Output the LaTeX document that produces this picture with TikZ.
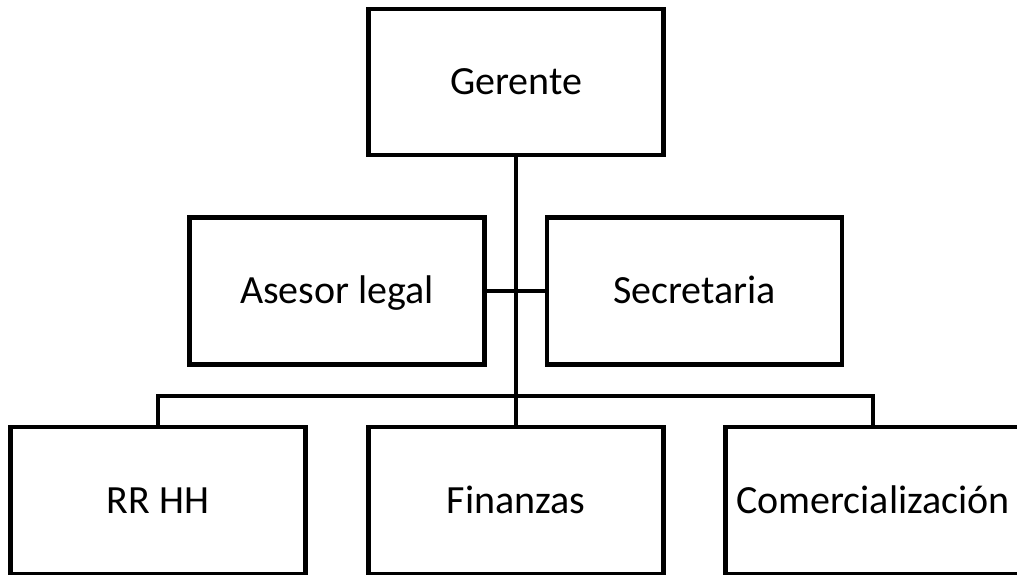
\documentclass[tikz,border=0pt]{standalone}
\usepackage{fontspec}
\setmainfont{Carlito}
\begin{document}
\begin{tikzpicture}[x=1pt,y=-1pt,
  orgbox/.style={draw=black, line width=4.5pt, fill=white, minimum width=295pt, minimum height=147pt, inner sep=0pt, outer sep=0pt, font=\fontsize{40}{48}\selectfont, text height=25.8pt, text depth=0pt},
  conn/.style={draw=black, line width=4.5pt}]
\useasboundingbox (0,0) rectangle (1017,574);
\clip (0,0) rectangle (1017,574);
\node[orgbox, minimum height=146pt] (ger) at (516,82) {Gerente};
\node[orgbox] (ase) at (337,291) {Asesor legal};
\node[orgbox] (sec) at (694.5,291) {Secretaria};
\node[orgbox] (rr) at (158,500.5) {RR HH};
\node[orgbox] (fin) at (516,500.5) {Finanzas};
\node[orgbox] (com) at (873,500.5) {Comercialización};
\coordinate (bus) at (516,396);
\draw[conn] (ger.south) -- (fin.north);
\draw[conn] (ase.east) -- (sec.west);
\draw[conn] (rr.north) |- (bus) -| (com.north);
\end{tikzpicture}
\end{document}
